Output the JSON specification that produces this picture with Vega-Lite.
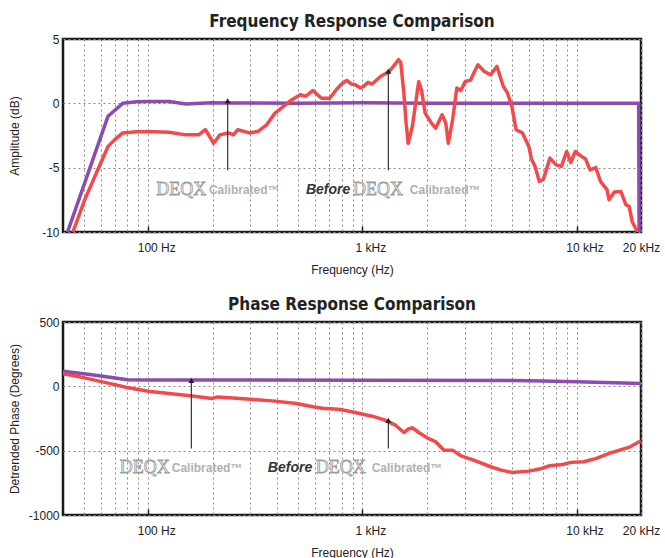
{
  "$schema": "https://vega.github.io/schema/vega-lite/v6.json",
  "padding": {"left": 6, "top": 11, "right": 2, "bottom": 0},
  "spacing": 17,
  "config": {
    "font": "Liberation Sans",
    "view": {"stroke": "#1a1a1a", "strokeWidth": 2.5},
    "title": {"font": "DejaVu Sans Condensed", "fontSize": 17, "fontWeight": "bold", "color": "#222222", "offset": 2},
    "axis": {"labelFont": "Liberation Sans", "labelFontSize": 12, "labelColor": "#222222", "titleFont": "Liberation Sans", "titleFontSize": 12, "titleFontWeight": "normal", "titleColor": "#222222", "gridColor": "#8a8a8a", "gridDash": [2, 3], "gridWidth": 1, "domain": false}
  },
  "datasets": {
    "amp": [
      {"series": "calibrated", "freq": 42, "db": -10},
      {"series": "calibrated", "freq": 64.9, "db": -1.0},
      {"series": "calibrated", "freq": 76, "db": 0},
      {"series": "calibrated", "freq": 88, "db": 0.12},
      {"series": "calibrated", "freq": 100, "db": 0.15},
      {"series": "calibrated", "freq": 125, "db": 0.15},
      {"series": "calibrated", "freq": 150, "db": -0.05},
      {"series": "calibrated", "freq": 198, "db": 0.05},
      {"series": "calibrated", "freq": 260, "db": 0.03},
      {"series": "calibrated", "freq": 500, "db": 0},
      {"series": "calibrated", "freq": 1000, "db": 0.04},
      {"series": "calibrated", "freq": 2000, "db": 0},
      {"series": "calibrated", "freq": 5000, "db": 0},
      {"series": "calibrated", "freq": 10000, "db": 0},
      {"series": "calibrated", "freq": 19500, "db": 0},
      {"series": "calibrated", "freq": 19600, "db": -10},
      {"series": "before", "freq": 44.5, "db": -10},
      {"series": "before", "freq": 50.5, "db": -7.5},
      {"series": "before", "freq": 58, "db": -5.2},
      {"series": "before", "freq": 64.9, "db": -3.35},
      {"series": "before", "freq": 70, "db": -2.8},
      {"series": "before", "freq": 76, "db": -2.3},
      {"series": "before", "freq": 88, "db": -2.2},
      {"series": "before", "freq": 100, "db": -2.18},
      {"series": "before", "freq": 125, "db": -2.24},
      {"series": "before", "freq": 150, "db": -2.45},
      {"series": "before", "freq": 172, "db": -2.45},
      {"series": "before", "freq": 185, "db": -2.05},
      {"series": "before", "freq": 202, "db": -3.1},
      {"series": "before", "freq": 216, "db": -2.45},
      {"series": "before", "freq": 237, "db": -2.3},
      {"series": "before", "freq": 250, "db": -2.45},
      {"series": "before", "freq": 262, "db": -2.05},
      {"series": "before", "freq": 297, "db": -2.3},
      {"series": "before", "freq": 326, "db": -2.18},
      {"series": "before", "freq": 357, "db": -1.67},
      {"series": "before", "freq": 391, "db": -0.76},
      {"series": "before", "freq": 428, "db": -0.24},
      {"series": "before", "freq": 469, "db": 0.28},
      {"series": "before", "freq": 513, "db": 0.67},
      {"series": "before", "freq": 545, "db": 0.55},
      {"series": "before", "freq": 588, "db": 1.0},
      {"series": "before", "freq": 644, "db": 0.4},
      {"series": "before", "freq": 705, "db": 0.4},
      {"series": "before", "freq": 755, "db": 1.06},
      {"series": "before", "freq": 800, "db": 1.5},
      {"series": "before", "freq": 846, "db": 1.78},
      {"series": "before", "freq": 890, "db": 1.5},
      {"series": "before", "freq": 927, "db": 1.45},
      {"series": "before", "freq": 980, "db": 1.2},
      {"series": "before", "freq": 1010, "db": 1.3},
      {"series": "before", "freq": 1062, "db": 1.63},
      {"series": "before", "freq": 1110, "db": 1.5},
      {"series": "before", "freq": 1219, "db": 2.1},
      {"series": "before", "freq": 1334, "db": 2.48},
      {"series": "before", "freq": 1397, "db": 2.87},
      {"series": "before", "freq": 1474, "db": 3.39},
      {"series": "before", "freq": 1510, "db": 3.2},
      {"series": "before", "freq": 1562, "db": 0.8},
      {"series": "before", "freq": 1600, "db": -1.5},
      {"series": "before", "freq": 1636, "db": -3.1},
      {"series": "before", "freq": 1711, "db": -1.8},
      {"series": "before", "freq": 1833, "db": 1.7},
      {"series": "before", "freq": 1890, "db": 1.0},
      {"series": "before", "freq": 1964, "db": -0.76},
      {"series": "before", "freq": 2101, "db": -1.54},
      {"series": "before", "freq": 2200, "db": -1.93},
      {"series": "before", "freq": 2355, "db": -0.89},
      {"series": "before", "freq": 2450, "db": -1.5},
      {"series": "before", "freq": 2520, "db": -3.1},
      {"series": "before", "freq": 2638, "db": -1.28},
      {"series": "before", "freq": 2761, "db": 1.19},
      {"series": "before", "freq": 2880, "db": 1.0},
      {"series": "before", "freq": 3021, "db": 1.7},
      {"series": "before", "freq": 3200, "db": 1.8},
      {"series": "before", "freq": 3300, "db": 2.3},
      {"series": "before", "freq": 3465, "db": 3.0},
      {"series": "before", "freq": 3710, "db": 2.48},
      {"series": "before", "freq": 3970, "db": 2.22},
      {"series": "before", "freq": 4250, "db": 2.87},
      {"series": "before", "freq": 4550, "db": 1.32},
      {"series": "before", "freq": 4760, "db": 0.8},
      {"series": "before", "freq": 4990, "db": -0.24},
      {"series": "before", "freq": 5220, "db": -2.05},
      {"series": "before", "freq": 5590, "db": -2.3},
      {"series": "before", "freq": 5990, "db": -3.35},
      {"series": "before", "freq": 6150, "db": -4.3},
      {"series": "before", "freq": 6400, "db": -4.9},
      {"series": "before", "freq": 6700, "db": -6.08},
      {"series": "before", "freq": 7000, "db": -5.9},
      {"series": "before", "freq": 7515, "db": -4.26},
      {"series": "before", "freq": 8040, "db": -4.78},
      {"series": "before", "freq": 8500, "db": -4.9},
      {"series": "before", "freq": 8995, "db": -3.74},
      {"series": "before", "freq": 9400, "db": -4.6},
      {"series": "before", "freq": 9860, "db": -3.74},
      {"series": "before", "freq": 10550, "db": -4.13},
      {"series": "before", "freq": 11000, "db": -4.3},
      {"series": "before", "freq": 11560, "db": -5.17},
      {"series": "before", "freq": 12300, "db": -5.0},
      {"series": "before", "freq": 12950, "db": -6.08},
      {"series": "before", "freq": 13870, "db": -6.7},
      {"series": "before", "freq": 14190, "db": -7.5},
      {"series": "before", "freq": 15000, "db": -6.9},
      {"series": "before", "freq": 16100, "db": -6.85},
      {"series": "before", "freq": 17020, "db": -7.9},
      {"series": "before", "freq": 17600, "db": -8.0},
      {"series": "before", "freq": 18200, "db": -9.2},
      {"series": "before", "freq": 19050, "db": -9.84},
      {"series": "before", "freq": 19400, "db": -10.2}
    ],
    "phase": [
      {"series": "calibrated", "freq": 40, "deg": 117},
      {"series": "calibrated", "freq": 50, "deg": 98},
      {"series": "calibrated", "freq": 60, "deg": 80},
      {"series": "calibrated", "freq": 70, "deg": 64},
      {"series": "calibrated", "freq": 80, "deg": 52},
      {"series": "calibrated", "freq": 100, "deg": 50},
      {"series": "calibrated", "freq": 200, "deg": 49},
      {"series": "calibrated", "freq": 1000, "deg": 48},
      {"series": "calibrated", "freq": 5000, "deg": 46},
      {"series": "calibrated", "freq": 7000, "deg": 42},
      {"series": "calibrated", "freq": 10000, "deg": 35},
      {"series": "calibrated", "freq": 15000, "deg": 28},
      {"series": "calibrated", "freq": 20000, "deg": 22},
      {"series": "before", "freq": 40, "deg": 99},
      {"series": "before", "freq": 50.5, "deg": 66},
      {"series": "before", "freq": 63.4, "deg": 29},
      {"series": "before", "freq": 79.6, "deg": -9.5},
      {"series": "before", "freq": 100, "deg": -38},
      {"series": "before", "freq": 125, "deg": -56},
      {"series": "before", "freq": 157, "deg": -74},
      {"series": "before", "freq": 198, "deg": -95},
      {"series": "before", "freq": 211, "deg": -82},
      {"series": "before", "freq": 248, "deg": -90},
      {"series": "before", "freq": 311, "deg": -102},
      {"series": "before", "freq": 391, "deg": -115},
      {"series": "before", "freq": 491, "deg": -134},
      {"series": "before", "freq": 588, "deg": -159},
      {"series": "before", "freq": 650, "deg": -170},
      {"series": "before", "freq": 772, "deg": -178},
      {"series": "before", "freq": 846, "deg": -190},
      {"series": "before", "freq": 970, "deg": -211},
      {"series": "before", "freq": 1112, "deg": -232},
      {"series": "before", "freq": 1275, "deg": -263},
      {"series": "before", "freq": 1428, "deg": -302},
      {"series": "before", "freq": 1562, "deg": -359},
      {"series": "before", "freq": 1636, "deg": -333},
      {"series": "before", "freq": 1711, "deg": -322},
      {"series": "before", "freq": 1833, "deg": -359},
      {"series": "before", "freq": 2006, "deg": -400},
      {"series": "before", "freq": 2198, "deg": -431},
      {"series": "before", "freq": 2405, "deg": -496},
      {"series": "before", "freq": 2638, "deg": -496},
      {"series": "before", "freq": 2886, "deg": -540},
      {"series": "before", "freq": 3310, "deg": -573},
      {"series": "before", "freq": 3970, "deg": -625},
      {"series": "before", "freq": 4450, "deg": -651},
      {"series": "before", "freq": 4990, "deg": -669},
      {"series": "before", "freq": 5990, "deg": -659},
      {"series": "before", "freq": 6700, "deg": -643},
      {"series": "before", "freq": 7515, "deg": -617},
      {"series": "before", "freq": 8610, "deg": -607},
      {"series": "before", "freq": 9430, "deg": -591},
      {"series": "before", "freq": 10810, "deg": -586},
      {"series": "before", "freq": 12390, "deg": -560},
      {"series": "before", "freq": 14190, "deg": -521},
      {"series": "before", "freq": 15890, "deg": -496},
      {"series": "before", "freq": 17810, "deg": -470},
      {"series": "before", "freq": 19320, "deg": -436},
      {"series": "before", "freq": 20000, "deg": -425}
    ],
    "ampArrows": [
      {"freq": 235, "db": -5.2, "tip": 0.2},
      {"freq": 1322, "db": -5.2, "tip": 2.5}
    ],
    "phaseArrows": [
      {"freq": 159, "deg": -483, "tip": 45},
      {"freq": 1322, "deg": -483, "tip": -265}
    ],
    "ampLabels": [
      {"kind": "deqx", "freq": 109, "db": -6.73, "text": "DEQX"},
      {"kind": "cal", "freq": 192, "db": -6.73, "text": "Calibrated™"},
      {"kind": "before", "freq": 545, "db": -6.73, "text": "Before"},
      {"kind": "deqx", "freq": 905, "db": -6.73, "text": "DEQX"},
      {"kind": "cal", "freq": 1665, "db": -6.73, "text": "Calibrated™"}
    ],
    "phaseLabels": [
      {"kind": "deqx", "freq": 73.7, "deg": -638, "text": "DEQX"},
      {"kind": "cal", "freq": 128.8, "deg": -638, "text": "Calibrated™"},
      {"kind": "before", "freq": 362, "deg": -638, "text": "Before"},
      {"kind": "deqx", "freq": 605, "deg": -638, "text": "DEQX"},
      {"kind": "cal", "freq": 1105, "deg": -638, "text": "Calibrated™"}
    ]
  },
  "vconcat": [
    {
      "title": "Frequency Response Comparison",
      "width": 578,
      "height": 193,
      "layer": [
        {
          "data": {"name": "amp"},
          "mark": {"type": "line", "strokeWidth": 3.5, "clip": true, "strokeJoin": "round"},
          "encoding": {
            "x": {"field": "freq", "type": "quantitative", "scale": {"type": "log", "domain": [40, 20000], "nice": false},
              "axis": {"title": "Frequency (Hz)",
                "values": [50,60,70,80,90,100,200,300,400,500,600,700,800,900,1000,2000,3000,4000,5000,6000,7000,8000,9000,10000,20000],
                "labelExpr": "datum.value == 100 ? '100 Hz' : datum.value == 1000 ? '1 kHz' : datum.value == 10000 ? '10 kHz' : datum.value == 20000 ? '20 kHz' : ''",
                "labelOverlap": false, "labelFlush": false, "labelBound": false,
                "tickColor": "#222222", "tickSize": -6, "tickWidth": 1.5,
                "tickOpacity": {"condition": {"test": "datum.value == 100 || datum.value == 1000 || datum.value == 10000", "value": 1}, "value": 0},
                "labelOffset": {"condition": {"test": "datum.value < 15000", "value": 8}, "value": 0},
                "labelPadding": 16, "titlePadding": 11}},
            "y": {"field": "db", "type": "quantitative", "scale": {"domain": [-10, 5], "nice": false, "zero": false},
              "axis": {"title": "Amplitude (dB)", "values": [5, 0, -5, -10], "labelExpr": "datum.value + ''", "ticks": false, "labelPadding": 4, "minExtent": 36, "maxExtent": 36, "titlePadding": 6}},
            "color": {"field": "series", "type": "nominal", "scale": {"domain": ["calibrated", "before"], "range": ["#8c4baf", "#f24a4a"]}, "legend": null},
            "order": {"field": "freq", "type": "quantitative"}
          }
        },
        {
          "data": {"name": "ampArrows"},
          "mark": {"type": "rule", "color": "#333333", "strokeWidth": 1.2},
          "encoding": {
            "x": {"field": "freq", "type": "quantitative"},
            "y": {"field": "db", "type": "quantitative"},
            "y2": {"field": "tip"}
          }
        },
        {
          "data": {"name": "ampArrows"},
          "mark": {"type": "point", "shape": "triangle-up", "filled": true, "color": "#222222", "size": 35, "opacity": 1},
          "encoding": {
            "x": {"field": "freq", "type": "quantitative"},
            "y": {"field": "tip", "type": "quantitative"}
          }
        },
        {
          "data": {"name": "ampLabels"},
          "transform": [{"filter": "datum.kind == 'deqx'"}],
          "mark": {"type": "text", "align": "left", "baseline": "middle", "font": "Liberation Serif", "fontSize": 18, "fill": "#f2f2f2", "stroke": "#9a9a9a", "strokeWidth": 0.8},
          "encoding": {"x": {"field": "freq", "type": "quantitative"}, "y": {"field": "db", "type": "quantitative"}, "text": {"field": "text"}}
        },
        {
          "data": {"name": "ampLabels"},
          "transform": [{"filter": "datum.kind == 'cal'"}],
          "mark": {"type": "text", "align": "left", "baseline": "middle", "font": "Liberation Sans", "fontSize": 12, "fontWeight": "bold", "fill": "#b0b0b0"},
          "encoding": {"x": {"field": "freq", "type": "quantitative"}, "y": {"field": "db", "type": "quantitative"}, "text": {"field": "text"}}
        },
        {
          "data": {"name": "ampLabels"},
          "transform": [{"filter": "datum.kind == 'before'"}],
          "mark": {"type": "text", "align": "left", "baseline": "middle", "font": "Liberation Sans", "fontSize": 14, "fontWeight": "bold", "fontStyle": "italic", "fill": "#333333"},
          "encoding": {"x": {"field": "freq", "type": "quantitative"}, "y": {"field": "db", "type": "quantitative"}, "text": {"field": "text"}}
        }
      ]
    },
    {
      "title": "Phase Response Comparison",
      "width": 578,
      "height": 193,
      "layer": [
        {
          "data": {"name": "phase"},
          "mark": {"type": "line", "strokeWidth": 3.5, "clip": true, "strokeJoin": "round"},
          "encoding": {
            "x": {"field": "freq", "type": "quantitative", "scale": {"type": "log", "domain": [40, 20000], "nice": false},
              "axis": {"title": "Frequency (Hz)",
                "values": [50,60,70,80,90,100,200,300,400,500,600,700,800,900,1000,2000,3000,4000,5000,6000,7000,8000,9000,10000,20000],
                "labelExpr": "datum.value == 100 ? '100 Hz' : datum.value == 1000 ? '1 kHz' : datum.value == 10000 ? '10 kHz' : datum.value == 20000 ? '20 kHz' : ''",
                "labelOverlap": false, "labelFlush": false, "labelBound": false,
                "tickColor": "#222222", "tickSize": -6, "tickWidth": 1.5,
                "tickOpacity": {"condition": {"test": "datum.value == 100 || datum.value == 1000 || datum.value == 10000", "value": 1}, "value": 0},
                "labelOffset": {"condition": {"test": "datum.value < 15000", "value": 8}, "value": 0},
                "labelPadding": 16, "titlePadding": 11}},
            "y": {"field": "deg", "type": "quantitative", "scale": {"domain": [-1000, 500], "nice": false, "zero": false},
              "axis": {"title": "Detrended Phase (Degrees)", "values": [500, 250, 0, -250, -500, -750, -1000], "labelExpr": "datum.value + ''", "ticks": false, "labelPadding": 4, "minExtent": 36, "maxExtent": 36, "titlePadding": 6}},
            "color": {"field": "series", "type": "nominal", "scale": {"domain": ["calibrated", "before"], "range": ["#8c4baf", "#f24a4a"]}, "legend": null},
            "order": {"field": "freq", "type": "quantitative"}
          }
        },
        {
          "data": {"name": "phaseArrows"},
          "mark": {"type": "rule", "color": "#333333", "strokeWidth": 1.2},
          "encoding": {
            "x": {"field": "freq", "type": "quantitative"},
            "y": {"field": "deg", "type": "quantitative"},
            "y2": {"field": "tip"}
          }
        },
        {
          "data": {"name": "phaseArrows"},
          "mark": {"type": "point", "shape": "triangle-up", "filled": true, "color": "#222222", "size": 35, "opacity": 1},
          "encoding": {
            "x": {"field": "freq", "type": "quantitative"},
            "y": {"field": "tip", "type": "quantitative"}
          }
        },
        {
          "data": {"name": "phaseLabels"},
          "transform": [{"filter": "datum.kind == 'deqx'"}],
          "mark": {"type": "text", "align": "left", "baseline": "middle", "font": "Liberation Serif", "fontSize": 18, "fill": "#f2f2f2", "stroke": "#9a9a9a", "strokeWidth": 0.8},
          "encoding": {"x": {"field": "freq", "type": "quantitative"}, "y": {"field": "deg", "type": "quantitative"}, "text": {"field": "text"}}
        },
        {
          "data": {"name": "phaseLabels"},
          "transform": [{"filter": "datum.kind == 'cal'"}],
          "mark": {"type": "text", "align": "left", "baseline": "middle", "font": "Liberation Sans", "fontSize": 12, "fontWeight": "bold", "fill": "#b0b0b0"},
          "encoding": {"x": {"field": "freq", "type": "quantitative"}, "y": {"field": "deg", "type": "quantitative"}, "text": {"field": "text"}}
        },
        {
          "data": {"name": "phaseLabels"},
          "transform": [{"filter": "datum.kind == 'before'"}],
          "mark": {"type": "text", "align": "left", "baseline": "middle", "font": "Liberation Sans", "fontSize": 14, "fontWeight": "bold", "fontStyle": "italic", "fill": "#333333"},
          "encoding": {"x": {"field": "freq", "type": "quantitative"}, "y": {"field": "deg", "type": "quantitative"}, "text": {"field": "text"}}
        }
      ]
    }
  ]
}
